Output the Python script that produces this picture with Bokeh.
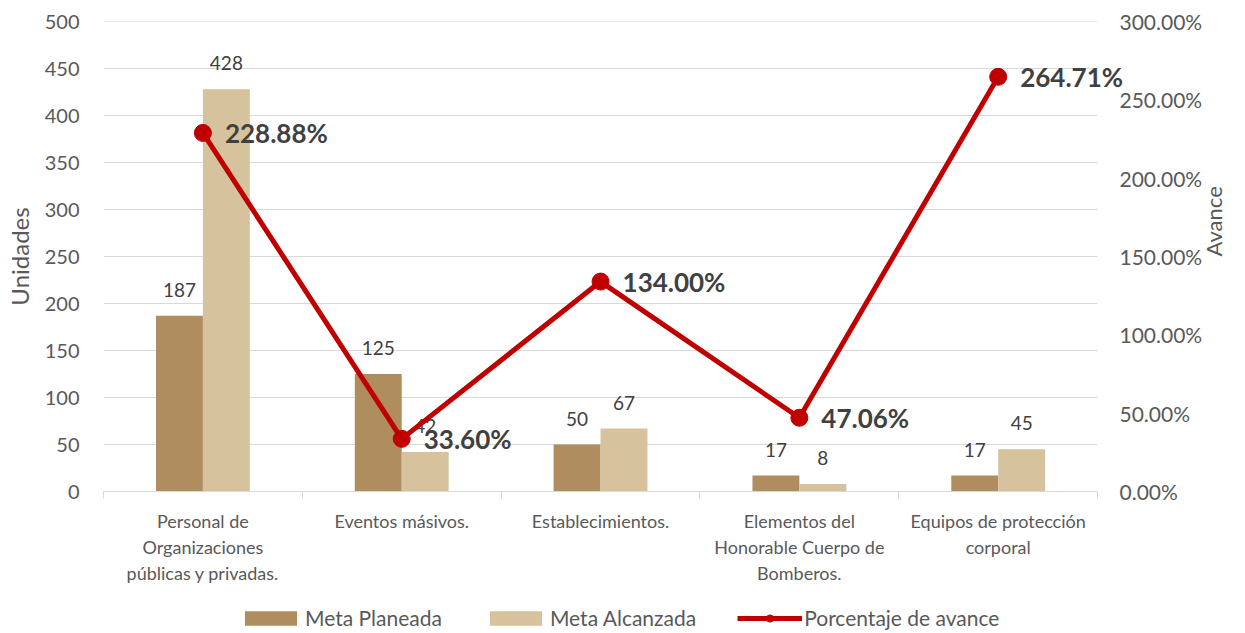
import math
from bokeh.plotting import figure
from bokeh.layouts import column
from bokeh.models import (Range1d, LinearAxis, FixedTicker, PrintfTickFormatter,
                          Legend, LegendItem, ColumnDataSource)
from bokeh.core.properties import value
from bokeh.embed import file_html
from bokeh.resources import INLINE

categorias = ["Personal de\nOrganizaciones\npúblicas y privadas.",
              "Eventos másivos.",
              "Establecimientos.",
              "Elementos del\nHonorable Cuerpo de\nBomberos.",
              "Equipos de protección\ncorporal"]
series = ["Meta Planeada", "Meta Alcanzada", "Porcentaje de avance"]
meta_planeada = [187, 125, 50, 17, 17]
meta_alcanzada = [428, 42, 67, 8, 45]
porcentaje = [228.88, 33.60, 134.00, 47.06, 264.71]
pct_labels = ["228.88%", "33.60%", "134.00%", "47.06%", "264.71%"]
ticks_unidades = list(range(0, 501, 50))
ticks_avance = list(range(0, 301, 50))

FONT = "Lato"
C_DARK = "#B08D5E"
C_LIGHT = "#D6C29C"
C_LINE = "#C00000"
GRID = "#D9D9D9"
TXT = "#595959"

n = len(categorias)
centers = [i + 0.5 for i in range(n)]
bw = 0.236

src = ColumnDataSource(dict(
    xc=centers,
    xp=[c - bw / 2 for c in centers],
    xa=[c + bw / 2 for c in centers],
    plan=meta_planeada,
    alc=meta_alcanzada,
    pct=porcentaje,
    plan_t=[str(v) for v in meta_planeada],
    alc_t=[str(v) for v in meta_alcanzada],
    pct_t=pct_labels,
))

# layout (pixels)
W, H, HL = 1243, 600, 30
BL, BT, FW, FH = 103, 21, 997, 470     # FW = width of the category area
EXT = 34                                # frame extends a bit right so the last label is not cut
FWX = FW + EXT
x_end = n * FWX / FW

p = figure(width=W, height=H, x_range=Range1d(0, x_end), y_range=Range1d(0, 500),
           output_backend="svg", toolbar_location=None,
           min_border_left=BL, min_border_right=W - BL - FWX,
           min_border_top=BT, min_border_bottom=H - BT - FH)
p.extra_y_ranges = {"pct": Range1d(0, 300)}
p.outline_line_color = None
p.background_fill_color = "white"
p.border_fill_color = "white"

# horizontal gridlines limited to the category area
p.xgrid.grid_line_color = None
p.ygrid.grid_line_color = None
p.segment(x0=[0] * len(ticks_unidades), x1=[n] * len(ticks_unidades),
          y0=ticks_unidades, y1=ticks_unidades, line_color=GRID, line_width=1)

# left axis
ya = p.yaxis[0]
ya.ticker = FixedTicker(ticks=ticks_unidades)
ya.axis_line_color = None
ya.major_tick_line_color = None
ya.minor_tick_line_color = None
ya.major_tick_out = 0
ya.major_tick_in = 0
ya.major_label_standoff = 24
ya.major_label_text_font = FONT
ya.major_label_text_font_size = "20px"
ya.major_label_text_color = TXT
ya.axis_label = "Unidades"
ya.axis_label_text_font = FONT
ya.axis_label_text_font_size = "24px"
ya.axis_label_text_font_style = "normal"
ya.axis_label_text_color = TXT
ya.axis_label_standoff = 8

# right axis
yr = LinearAxis(y_range_name="pct",
                ticker=FixedTicker(ticks=ticks_avance),
                formatter=PrintfTickFormatter(format="%.2f%%"))
yr.axis_line_color = None
yr.major_tick_line_color = None
yr.minor_tick_line_color = None
yr.major_tick_out = 0
yr.major_tick_in = 0
yr.major_label_standoff = 22 - EXT
yr.major_label_text_font = FONT
yr.major_label_text_font_size = "21px"
yr.major_label_text_color = TXT
yr.axis_label = "Avance"
yr.axis_label_text_font = FONT
yr.axis_label_text_font_size = "22px"
yr.axis_label_text_font_style = "normal"
yr.axis_label_text_color = TXT
yr.axis_label_standoff = 8
try:
    yr.axis_label_orientation = math.pi / 2
except Exception:
    pass
p.add_layout(yr, "right")

# x axis
xa = p.xaxis[0]
xa.ticker = FixedTicker(ticks=centers, minor_ticks=list(range(0, n + 1)))
xa.major_label_overrides = {c: lab for c, lab in zip(centers, categorias)}
xa.bounds = (0, n)
xa.axis_line_color = GRID
xa.major_tick_line_color = None
xa.major_tick_out = 0
xa.major_tick_in = 0
xa.minor_tick_line_color = GRID
xa.minor_tick_out = 7
xa.minor_tick_in = 0
xa.major_label_standoff = 11
xa.major_label_text_font = FONT
xa.major_label_text_font_size = "18px"
xa.major_label_text_color = TXT

# bars
p.vbar(x="xp", top="plan", width=bw, source=src, fill_color=C_DARK, line_color=None)
p.vbar(x="xa", top="alc", width=bw, source=src, fill_color=C_LIGHT, line_color=None)

# bar labels
for xcol, ycol, tcol in (("xp", "plan", "plan_t"), ("xa", "alc", "alc_t")):
    p.text(x=xcol, y=ycol, text=tcol, source=src, text_align="center", text_baseline="middle",
           y_offset=-26, text_font=value(FONT), text_font_size="19px", text_color="#404040")

# line
p.line(x="xc", y="pct", source=src, y_range_name="pct", line_color=C_LINE, line_width=5)
p.scatter(x="xc", y="pct", source=src, y_range_name="pct", size=17,
          fill_color=C_LINE, line_color=C_LINE)
p.text(x="xc", y="pct", text="pct_t", source=src, y_range_name="pct", x_offset=22, y_offset=0,
       text_align="left", text_baseline="middle", text_font=value(FONT),
       text_font_size="26px", text_font_style="bold", text_color="#404040")

# legend strip (separate figure below the chart; proxy renderers carry the styles only)
pl = figure(width=W, height=HL, x_range=Range1d(0, 1), y_range=Range1d(0, 1),
            output_backend="svg", toolbar_location=None, x_axis_type=None, y_axis_type=None,
            min_border=0)
pl.outline_line_color = None
pl.background_fill_color = "white"
pl.border_fill_color = "white"
nan = [float("nan")]
lr1 = pl.vbar(x=nan, top=nan, width=0.1, fill_color=C_DARK, line_color=None)
lr2 = pl.vbar(x=nan, top=nan, width=0.1, fill_color=C_LIGHT, line_color=None)
lr3 = pl.line(x=nan, y=nan, line_color=C_LINE, line_width=5)
lr4 = pl.scatter(x=nan, y=nan, size=17, fill_color=C_LINE, line_color=C_LINE)
legend = Legend(items=[LegendItem(label=series[0], renderers=[lr1]),
                       LegendItem(label=series[1], renderers=[lr2]),
                       LegendItem(label=series[2], renderers=[lr3, lr4])],
                orientation="horizontal", location=(135, 0),
                glyph_width=65, glyph_height=18, label_text_font=FONT,
                label_text_font_size="21px", label_text_color=TXT,
                spacing=41, padding=0, margin=0, label_standoff=2,
                border_line_color=None, background_fill_alpha=0)
pl.add_layout(legend, "center")

open("out.html", "w").write(file_html(column(p, pl, spacing=0), INLINE))
